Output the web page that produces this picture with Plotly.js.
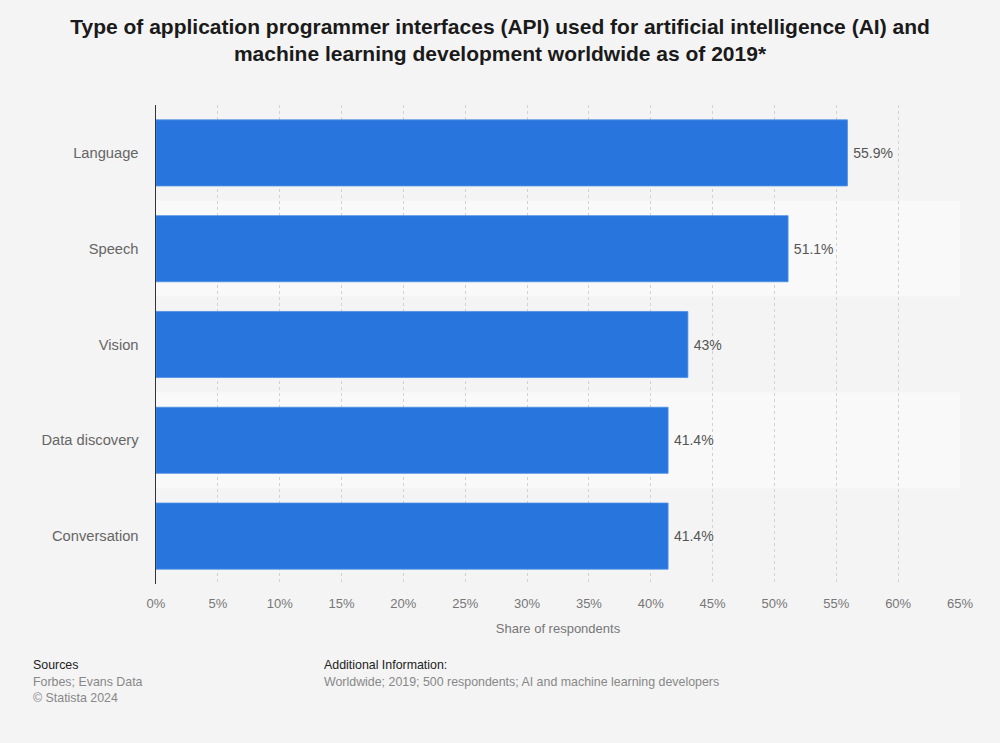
<!DOCTYPE html>
<html>
<head>
<meta charset="utf-8">
<script src="https://cdn.plot.ly/plotly-3.0.1.min.js"></script>
<style>
html,body{margin:0;padding:0;background:#f4f4f4;}
#chart{width:1000px;height:743px;}
</style>
</head>
<body>
<div id="chart"></div>
<script>
const categories = ["Language", "Speech", "Vision", "Data discovery", "Conversation"];
const shares = [55.9, 51.1, 43, 41.4, 41.4];
const tickValues = [0, 5, 10, 15, 20, 25, 30, 35, 40, 45, 50, 55, 60, 65];

const FONT = "'Liberation Sans', Arial, Helvetica, sans-serif";

const trace = {
  type: 'bar',
  orientation: 'h',
  y: categories,
  x: shares,
  width: 0.69,
  marker: {color: '#2876dd', line: {color: '#4d8fe6', width: 0.8}},
  text: shares.map(v => '\u2009' + v + '%'),
  textposition: 'outside',
  cliponaxis: false,
  textfont: {family: FONT, size: 14, color: '#555'},
  hoverinfo: 'none'
};

// alternating row bands
const shapes = categories.map((c, i) => ({
  type: 'rect', layer: 'below',
  xref: 'paper', yref: 'y',
  x0: 0, x1: 1,
  y0: i - 0.5, y1: i + 0.5,
  fillcolor: i % 2 === 1 ? '#f9f9f9' : '#f4f4f4',
  line: {width: 0}
}));

const footer = [
  {text: 'Sources', x: 31, y: 665, head: true},
  {text: 'Forbes; Evans Data', x: 31, y: 682},
  {text: '© Statista 2024', x: 31, y: 698},
  {text: 'Additional Information:', x: 322, y: 665, head: true},
  {text: 'Worldwide; 2019; 500 respondents; AI and machine learning developers', x: 322, y: 682}
];

const layout = {
  width: 1000, height: 743,
  paper_bgcolor: '#f4f4f4',
  plot_bgcolor: 'rgba(0,0,0,0)',
  margin: {l: 156, r: 40, t: 105, b: 159},
  showlegend: false,
  font: {family: FONT},
  title: {
    text: '<b>Type of application programmer interfaces (API) used for artificial intelligence (AI) and<br>machine learning development worldwide as of 2019*</b>',
    font: {family: FONT, size: 21, color: '#1a1a1a'},
    x: 0.5, xanchor: 'center',
    yref: 'container', y: 1 - 34 / 743, yanchor: 'middle'
  },
  xaxis: {
    range: [0, 65],
    tickvals: tickValues,
    ticktext: tickValues.map(v => v + '%'),
    showgrid: true, gridcolor: '#d2d2d2', griddash: 'dot', gridwidth: 1,
    zeroline: false, showline: false,
    ticks: '', ticklen: 0, ticklabelstandoff: 10,
    tickfont: {family: FONT, size: 13, color: '#777'},
    title: {text: 'Share of respondents', font: {family: FONT, size: 13, color: '#777'}, standoff: 13},
    fixedrange: true
  },
  yaxis: {
    categoryorder: 'array', categoryarray: categories,
    autorange: 'reversed',
    showgrid: false, zeroline: false,
    showline: true, linecolor: '#333', linewidth: 1.5,
    ticks: '', ticklabelstandoff: 13,
    tickfont: {family: FONT, size: 14.7, color: '#666'},
    fixedrange: true
  },
  shapes: shapes,
  annotations: footer.map(a => ({
    text: a.text,
    xref: 'paper', yref: 'paper',
    x: (a.x - 156) / 804,
    y: (584 - a.y) / 479,
    xanchor: 'left', yanchor: 'middle',
    showarrow: false,
    font: {family: FONT, size: 12.4, color: a.head ? '#222' : '#888'}
  }))
};

Plotly.newPlot('chart', [trace], layout, {displayModeBar: false, staticPlot: true});
</script>
</body>
</html>
